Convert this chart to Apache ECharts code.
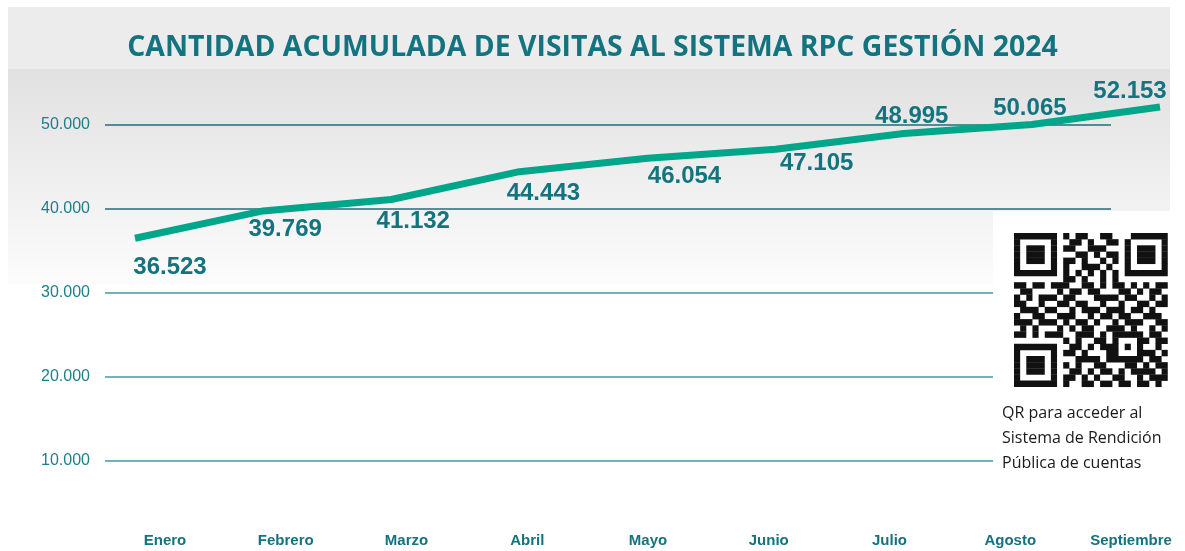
<!DOCTYPE html>
<html>
<head>
<meta charset="utf-8">
<title>Visitas RPC 2024</title>
<script src="https://cdn.jsdelivr.net/npm/echarts@6/dist/echarts.min.js"></script>
<style>
  html, body { margin: 0; padding: 0; background: #ffffff; }
  #chart { width: 1185px; height: 551px; }
</style>
</head>
<body>
<div id="chart"></div>
<script>
// datos del grafico
const meses = ['Enero', 'Febrero', 'Marzo', 'Abril', 'Mayo', 'Junio', 'Julio', 'Agosto', 'Septiembre'];
const visitas = [36523, 39769, 41132, 44443, 46054, 47105, 48995, 50065, 52153];
const yTicks = [0, 10000, 20000, 30000, 40000, 50000, 60000];
const titulo = 'CANTIDAD ACUMULADA DE VISITAS AL SISTEMA RPC GESTIÓN 2024';
const notaQR = ['QR para acceder al', 'Sistema de Rendición', 'Pública de cuentas'];

// dibujo del codigo QR (decorativo, 25x25 modulos)
const qrRows = [
  '1111111010110011000111111',
  '1000001001101001101000001',
  '1011101011001110001011101',
  '1011101000110101101011101',
  '1011101011010010101011101',
  '1000001010011101001000001',
  '1111111010101010101111111',
  '0000000011010010100000000',
  '1101101110011010110101011',
  '0110000101101100011010110',
  '1010111011000111101100101',
  '1100100110110010010011011',
  '0111011001011101110110100',
  '1001100111001011011001110',
  '1110111010110100101110011',
  '0101000101011001110100101',
  '1101011100111010111110110',
  '0000000010100110100011011',
  '1111111001101011101010010',
  '1000001011010001100011101',
  '1011101000111101111110110',
  '1011101010100110001101011',
  '1011101001101011010111101',
  '1000001011010100110010111',
  '1111111010011011011011010'
];

const teal = '#13737f';
const fmtMiles = v => String(v).replace(/\B(?=(\d{3})+(?!\d))/g, '.');

// desplazamiento de cada etiqueta respecto a su punto
const labelOffsets = [[35, 29], [22, 18], [22, 22], [24, 22], [37, 18], [41, 14], [8, -17], [-2, -16], [-30, -16]];

function qrGraphic(x0, y0, m) {
  const els = [];
  qrRows.forEach((row, r) => {
    let c = 0;
    while (c < row.length) {
      if (row[c] === '1') {
        let e = c;
        while (e < row.length && row[e] === '1') e++;
        els.push({
          type: 'rect', z: 6,
          shape: { x: x0 + c * m, y: y0 + r * m, width: (e - c) * m, height: m + 0.3 },
          style: { fill: '#111111' }
        });
        c = e;
      } else {
        c++;
      }
    }
  });
  return els;
}

const chart = echarts.init(document.getElementById('chart'));

const option = {
  backgroundColor: '#ffffff',
  animation: false,
  title: {
    text: titulo,
    left: 'center',
    top: 34,
    padding: [0, 0, 0, 21],
    textStyle: { color: teal, fontFamily: 'Open Sans', fontWeight: 'bold', fontSize: 28.4 }
  },
  graphic: [
    { type: 'rect', z: -10, shape: { x: 8, y: 7, width: 1162, height: 62 }, style: { fill: '#ececec' } },
    {
      type: 'rect', z: -10, shape: { x: 8, y: 69, width: 1162, height: 215 },
      style: {
        fill: new echarts.graphic.LinearGradient(0, 0, 0, 1, [
          { offset: 0, color: '#e1e1e1' },
          { offset: 1, color: '#fcfcfc' }
        ])
      }
    },
    { type: 'rect', z: 5, shape: { x: 993, y: 211, width: 192, height: 272 }, style: { fill: '#ffffff' } },
    { type: 'group', z: 6, children: qrGraphic(1014, 233, 6.15) },
    {
      type: 'text', z: 6, left: 1002, top: 401,
      style: { text: notaQR.join('\n'), fill: '#1a1a1a', font: '16px "Open Sans"', lineHeight: 25 }
    }
  ],
  grid: [
    { left: 135, right: 25, top: 41, bottom: 6 },
    { left: 105, right: 74, top: 41, bottom: 6 },
    { left: 165, right: 54, top: 41, bottom: 6 }
  ],
  xAxis: [
    { type: 'category', gridIndex: 0, data: meses, boundaryGap: false, show: false },
    { type: 'category', gridIndex: 1, data: meses, boundaryGap: false, show: false },
    {
      type: 'category', gridIndex: 2, data: meses, boundaryGap: false,
      axisLine: { show: false }, axisTick: { show: false },
      axisLabel: {
        interval: 0, margin: -12, color: teal,
        fontFamily: 'Liberation Sans', fontWeight: 'bold', fontSize: 15
      }
    }
  ],
  yAxis: [
    { type: 'value', gridIndex: 0, min: yTicks[0], max: yTicks[yTicks.length - 1], show: false },
    {
      type: 'value', gridIndex: 1, min: yTicks[0], max: yTicks[yTicks.length - 1], interval: 10000,
      axisLine: { show: false }, axisTick: { show: false },
      axisLabel: {
        showMinLabel: false, showMaxLabel: false, margin: 15,
        color: '#1b7f8b', fontFamily: 'Liberation Sans', fontSize: 16,
        padding: [0, 0, 7, 0],
        formatter: v => fmtMiles(v)
      },
      splitLine: {
        show: true, showMinLine: false, showMaxLine: false,
        lineStyle: {
          width: 1.5,
          color: ['#3b9ca3', '#3b9ca3', '#3b9ca3', '#1d6f7b', '#1d6f7b']
        }
      }
    },
    { type: 'value', gridIndex: 2, min: yTicks[0], max: yTicks[yTicks.length - 1], show: false }
  ],
  series: [
    {
      name: 'Visitas',
      type: 'line',
      xAxisIndex: 0,
      yAxisIndex: 0,
      data: visitas,
      symbol: 'circle',
      symbolSize: 1,
      showSymbol: true,
      itemStyle: { color: 'rgba(0,0,0,0)' },
      lineStyle: { color: '#00a68a', width: 7, join: 'round' },
      label: {
        show: true,
        position: 'inside',
        color: teal,
        fontFamily: 'Liberation Sans',
        fontWeight: 'bold',
        fontSize: 24,
        formatter: p => fmtMiles(p.value)
      },
      labelLayout: p => ({
        dx: labelOffsets[p.dataIndex][0],
        dy: labelOffsets[p.dataIndex][1],
        hideOverlap: false
      })
    }
  ]
};

chart.setOption(option);
</script>
</body>
</html>
